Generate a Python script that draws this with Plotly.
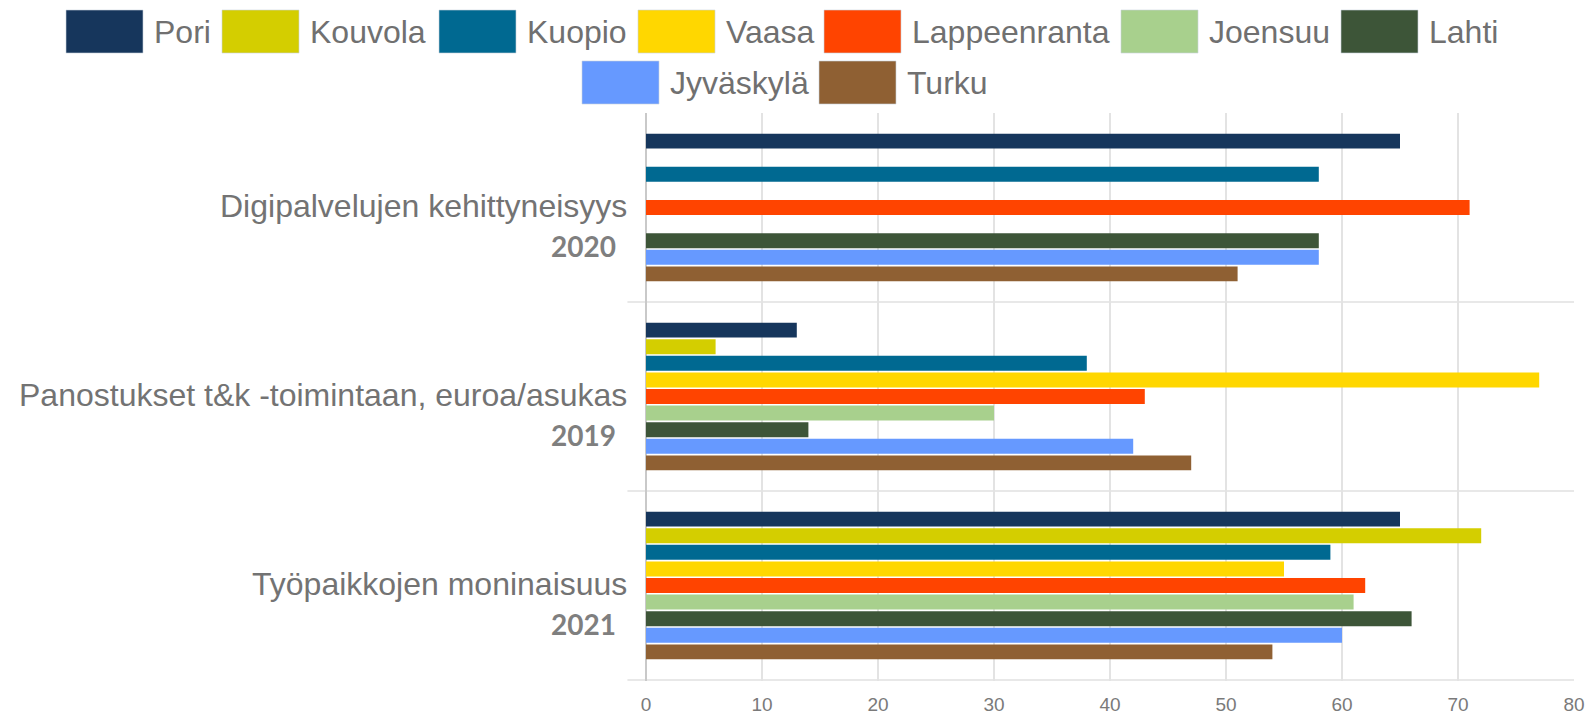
import plotly.graph_objects as go

# ---- data ----
categories = ["Digipalvelujen kehittyneisyys", "Panostukset t&k -toimintaan, euroa/asukas", "Työpaikkojen moninaisuus"]
years = ["2020", "2019", "2021"]
cities = ["Pori", "Kouvola", "Kuopio", "Vaasa", "Lappeenranta", "Joensuu", "Lahti", "Jyväskylä", "Turku"]
pori = [65, 13, 65]
kouvola = [None, 6, 72]
kuopio = [58, 38, 59]
vaasa = [None, 77, 55]
lappeenranta = [71, 43, 62]
joensuu = [None, 30, 61]
lahti = [58, 14, 66]
jyvaskyla = [58, 42, 60]
turku = [51, 47, 54]
series = [pori, kouvola, kuopio, vaasa, lappeenranta, joensuu, lahti, jyvaskyla, turku]
x_ticks = [0, 10, 20, 30, 40, 50, 60, 70, 80]

# ---- styles ----
colors = ["#16365C", "#D4CE00", "#006991", "#FFD700", "#FF4400", "#A8D08D", "#3D5538", "#6699FF", "#8F6033"]
W, H = 1587, 714
L, R, T, B = 646, 1574, 113, 681

def px_x(p):
    return (p - L) / (R - L)

def px_y(p):
    return (B - p) / (B - T)

fig = go.Figure()
for name, vals, col in zip(cities, series, colors):
    fig.add_trace(go.Bar(
        y=categories, x=vals, name=name, orientation="h",
        marker=dict(color=col, line=dict(width=0)),
        showlegend=False,
    ))

# custom legend (large swatches)
legend_rows = [0, 0, 0, 0, 0, 0, 0, 1, 1]
legend_left = [66, 222, 439, 638, 824, 1121, 1341, 582, 819]
row_top = [10, 61]
sw_w, sw_h = 77, 43
shapes = []
annotations = []
for name, col, row, lx in zip(cities, colors, legend_rows, legend_left):
    top = row_top[row]
    shapes.append(dict(type="rect", xref="paper", yref="paper",
                       x0=px_x(lx), x1=px_x(lx + sw_w), y0=px_y(top + sw_h), y1=px_y(top),
                       fillcolor=col, line=dict(color="rgba(200,210,220,0.6)", width=1), layer="above"))
    annotations.append(dict(text=name, xref="paper", yref="paper", x=px_x(lx + sw_w + 9),
                            y=px_y(top + sw_h / 2), xanchor="left", yanchor="middle", showarrow=False,
                            font=dict(family="Liberation Sans, Arial, sans-serif", size=32, color="#707070")))

# category separators
for b in [0.5, 1.5, 2.5]:
    shapes.append(dict(type="line", xref="paper", yref="y", x0=-0.02, x1=1, y0=b, y1=b,
                       line=dict(color="#e8e8e8", width=2), layer="below"))

# category labels
for cat, yr in zip(categories, years):
    annotations.append(dict(text=cat, xref="paper", yref="y", x=0, y=cat, xanchor="right", yanchor="middle",
                            xshift=-17, yshift=2, showarrow=False,
                            font=dict(family="Liberation Sans, Arial, sans-serif", size=32, color="#737373")))
    annotations.append(dict(text="<b>" + yr + "</b>", xref="paper", yref="y", x=0, y=cat, xanchor="right",
                            yanchor="middle", xshift=-28, yshift=-38, showarrow=False,
                            font=dict(family="Lato, sans-serif", size=28, color="#7f7f7f")))

fig.update_layout(
    width=W, height=H, autosize=False,
    margin=dict(l=L, r=W - R, t=T, b=H - B, pad=0),
    paper_bgcolor="white", plot_bgcolor="white",
    barmode="group", bargap=0.21, bargroupgap=0.1,
    shapes=shapes, annotations=annotations,
    xaxis=dict(range=[0, 80], tickvals=x_ticks, showgrid=True, gridcolor="#e3e3e3", gridwidth=1.5,
               zeroline=True, zerolinecolor="#c9c9c9", zerolinewidth=2, showline=False,
               tickfont=dict(family="Liberation Sans, Arial, sans-serif", size=19, color="#7a7a7a"),
               ticks="", ticklabelstandoff=10, ticklabeloverflow="allow", fixedrange=True, automargin=False),
    yaxis=dict(type="category", autorange="reversed", showticklabels=False, showgrid=False,
               zeroline=False, showline=False, ticks="", automargin=False),
)

fig.write_html("out.html", config={"displayModeBar": False},
               post_script="document.body.style.margin='0';document.documentElement.style.overflow='hidden';document.body.style.overflow='hidden';")
